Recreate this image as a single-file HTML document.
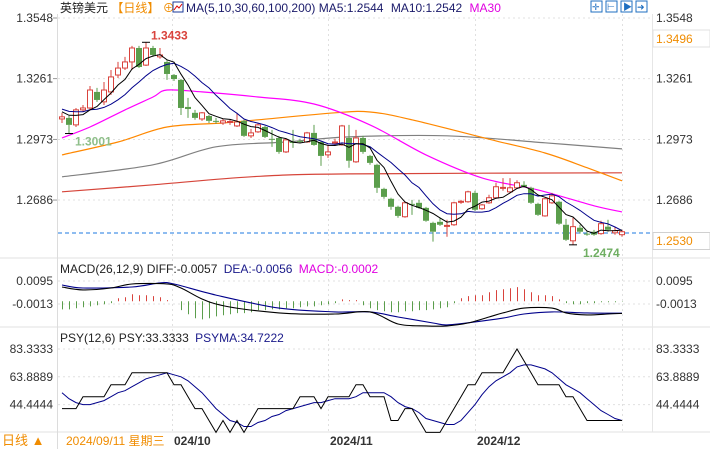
<!DOCTYPE html>
<html><head><meta charset="utf-8">
<style>
html,body{margin:0;padding:0;background:#fff;}
svg{display:block;font-family:"Liberation Sans","Noto Sans CJK SC",sans-serif;}
</style></head>
<body>
<svg id="chart" width="710" height="449" viewBox="0 0 710 449" xmlns="http://www.w3.org/2000/svg">
  <rect x="0" y="0" width="710" height="449" fill="#fff"/>
  <text x="60" y="12" font-size="12" fill="#222">英镑美元 <tspan fill="#f08c00">【日线】</tspan><tspan fill="#f08c00"> ⊕</tspan></text>
  <rect x="173" y="2" width="10" height="10" fill="none" stroke="#1a3a9a"/>
  <polyline points="174,10 177,6 179,8 182,4" fill="none" stroke="#d00"/>
  <text x="186" y="12" font-size="12" fill="#1a1a6a">MA(5,10,30,60,100,200) MA5:1.2544 <tspan dx="4">MA10:1.2542</tspan> <tspan dx="4" fill="#e000e0">MA30</tspan></text>
  <g>
    <rect x="591" y="1" width="11" height="11" fill="#fff" stroke="#1f6fc0"/>
    <rect x="606" y="1" width="11" height="11" fill="#fff" stroke="#1f6fc0"/>
    <rect x="621" y="1" width="11" height="11" fill="#fff" stroke="#1f6fc0"/>
    <rect x="636" y="1" width="11" height="11" fill="#fff" stroke="#1f6fc0"/>
    <text x="592" y="10" font-size="9" fill="#1f6fc0">✛</text>
    <text x="607" y="10" font-size="9" fill="#1f6fc0">⊢</text>
    <text x="623" y="10" font-size="9" fill="#1f6fc0">▶</text>
    <text x="637" y="10" font-size="9" fill="#1f6fc0">➜</text>
  </g>
  <g id="grid"></g>
  <g id="main"></g>
  <g id="macd"></g>
  <g id="psy"></g>
  <g id="axes"></g>
</svg>
<script>
const opens = [1.3070,1.3075,1.3042,1.3113,1.3122,1.3198,1.3151,1.3198,1.3278,1.3311,1.3340,1.3406,1.3325,1.3406,1.3364,1.3340,1.3278,1.3255,1.3127,1.3099,1.3070,1.3084,1.3061,1.3051,1.3056,1.3037,1.3061,1.2990,1.3009,1.3032,1.2976,1.2980,1.2914,1.2961,1.2966,1.2961,1.3004,1.2961,1.2900,1.2957,1.2947,1.2980,1.2867,1.2980,1.2895,1.2853,1.2739,1.2692,1.2654,1.2607,1.2668,1.2673,1.2649,1.2578,1.2583,1.2564,1.2569,1.2678,1.2678,1.2720,1.2645,1.2673,1.2697,1.2744,1.2725,1.2744,1.2758,1.2744,1.2668,1.2611,1.2673,1.2678,1.2569,1.2493,1.2555,1.2527,1.2536,1.2527,1.2560,1.2531,1.2522];
const closes = [1.3080,1.3042,1.3113,1.3122,1.3207,1.3160,1.3207,1.3269,1.3311,1.3340,1.3406,1.3316,1.3406,1.3373,1.3373,1.3283,1.3259,1.3122,1.3117,1.3075,1.3099,1.3061,1.3060,1.3061,1.3058,1.3056,1.2990,1.3004,1.3042,1.2985,1.2974,1.2914,1.2971,1.2957,1.2965,1.3004,1.2947,1.2895,1.2914,1.2961,1.3037,1.2872,1.2980,1.2914,1.2862,1.2744,1.2701,1.2654,1.2611,1.2673,1.2666,1.2649,1.2588,1.2536,1.2569,1.2566,1.2673,1.2680,1.2725,1.2640,1.2663,1.2697,1.2749,1.2746,1.2744,1.2768,1.2749,1.2673,1.2616,1.2692,1.2706,1.2574,1.2498,1.2560,1.2536,1.2526,1.2522,1.2574,1.2545,1.2541,1.2536];
const highs = [1.3099,1.3084,1.3122,1.3136,1.3226,1.3217,1.3245,1.3302,1.3340,1.3364,1.3416,1.3416,1.3433,1.3416,1.3406,1.3349,1.3283,1.3259,1.3170,1.3113,1.3103,1.3089,1.3075,1.3070,1.3070,1.3099,1.3066,1.3023,1.3051,1.3037,1.3018,1.2990,1.2976,1.3018,1.2976,1.3009,1.3042,1.2966,1.2947,1.2976,1.3042,1.3042,1.3018,1.2990,1.2900,1.2858,1.2744,1.2697,1.2659,1.2678,1.2687,1.2687,1.2654,1.2583,1.2602,1.2593,1.2678,1.2687,1.2730,1.2730,1.2668,1.2711,1.2768,1.2790,1.2790,1.2780,1.2775,1.2749,1.2673,1.2697,1.2720,1.2682,1.2597,1.2602,1.2569,1.2541,1.2545,1.2588,1.2593,1.2560,1.2545];
const lows = [1.3051,1.3001,1.3032,1.3103,1.3113,1.3151,1.3136,1.3184,1.3264,1.3302,1.3302,1.3311,1.3321,1.3364,1.3355,1.3255,1.3250,1.3089,1.3075,1.3066,1.3061,1.3051,1.3047,1.3042,1.3042,1.3032,1.2985,1.2980,1.3004,1.2980,1.2938,1.2905,1.2909,1.2933,1.2957,1.2957,1.2943,1.2848,1.2886,1.2947,1.2943,1.2839,1.2862,1.2905,1.2853,1.2720,1.2692,1.2640,1.2602,1.2602,1.2616,1.2645,1.2583,1.2489,1.2564,1.2512,1.2564,1.2668,1.2673,1.2635,1.2640,1.2668,1.2692,1.2730,1.2720,1.2739,1.2744,1.2668,1.2611,1.2607,1.2668,1.2569,1.2493,1.2474,1.2527,1.2517,1.2517,1.2522,1.2536,1.2522,1.2512];
const priorCloses = [1.3150,1.3130,1.3120,1.3110,1.3135,1.3125,1.3115,1.3105,1.3095];
const ma30Idx = [0,4,9,13,15,20,28,36,44,52,60,68,76,80];
const ma30Val = [1.2980,1.3032,1.3113,1.3174,1.3207,1.3198,1.3174,1.3141,1.3042,1.2900,1.2791,1.2734,1.2659,1.2630];
const ma60Idx = [0,8,15,23,28,39,44,50,62,69,75,80];
const ma60Val = [1.2900,1.2961,1.3032,1.3051,1.3066,1.3099,1.3103,1.3066,1.2966,1.2909,1.2839,1.2777];
const ma100Idx = [0,13,22,32,41,55,69,80];
const ma100Val = [1.2796,1.2853,1.2938,1.2961,1.2985,1.2990,1.2957,1.2928];
const ma200Idx = [0,13,27,41,80];
const ma200Val = [1.2725,1.2758,1.2796,1.2810,1.2815];
const priceTicks = [1.3548,1.3261,1.2973,1.2686];
const lastPrice = 1.2530;
const diffIdx = [0,3,7,10,15,17,22,31,39,44,48,52,55,58,61,63,66,70,72,75,78,80];
const diffVal = [0.0067,0.0053,0.0062,0.0081,0.0081,0.0062,-0.0013,-0.0055,-0.0060,-0.0050,-0.0107,-0.0116,-0.0116,-0.0102,-0.0074,-0.0055,-0.0032,-0.0032,-0.0055,-0.0064,-0.0060,-0.0057];
const deaIdx = [0,3,10,14,16,22,31,39,44,48,53,55,59,63,66,70,75,80];
const deaVal = [0.0076,0.0062,0.0067,0.0086,0.0081,0.0029,-0.0032,-0.0050,-0.0050,-0.0074,-0.0102,-0.0111,-0.0097,-0.0079,-0.0060,-0.0050,-0.0055,-0.0056];
const macdHist = [-0.0038,-0.0038,-0.0033,-0.0028,-0.0024,-0.0019,-0.0014,-0.0009,0.0014,0.0019,0.0033,0.0028,0.0028,0.0024,0.0019,0.0005,0,
-0.0042,-0.0061,-0.0080,-0.0085,-0.0080,-0.0071,-0.0066,-0.0061,-0.0056,-0.0056,-0.0052,-0.0042,-0.0042,-0.0038,-0.0038,-0.0033,-0.0033,-0.0028,-0.0024,-0.0024,-0.0019,-0.0014,-0.0009,
0.0009,0.0005,0.0005,-0.0019,-0.0033,-0.0042,-0.0047,-0.0052,-0.0052,
-0.0047,-0.0047,-0.0042,-0.0042,-0.0038,-0.0033,-0.0028,-0.0009,0.0014,0.0024,0.0028,0.0028,0.0042,0.0052,0.0056,0.0061,0.0066,0.0056,0.0042,0.0028,0.0028,0.0024,0.0009,-0.0009,-0.0014,-0.0014,-0.0009,-0.0009,-0.0005,-0.0005,-0.0005,-0.0002];
const macdTicks = [0.0095,-0.0013];
const psy = [41.67,41.67,41.67,50,50,50,50,58.33,58.33,58.33,66.67,66.67,66.67,66.67,66.67,66.67,58.33,58.33,50,41.67,41.67,33.33,25,33.33,25,33.33,25,33.33,41.67,41.67,41.67,41.67,41.67,41.67,50,50,50,41.67,50,50,50,50,58.33,58.33,50,50,50,33.33,33.33,41.67,41.67,33.33,25,25,25,33.33,41.67,50,58.33,58.33,66.67,66.67,66.67,66.67,75,83.33,75,66.67,58.33,58.33,58.33,58.33,50,50,41.67,33.33,33.33,33.33,33.33,33.33,33.33];
const priorPsy = [66.67,58.33,58.33,50,41.67];
const psyTicks = [83.3333,63.8889,44.4444];
const dateLabels = ["024/10","2024/11","2024/12"];
const dateIdx = [15.7,38,59];

const NS="http://www.w3.org/2000/svg";
const X0=62, DX=7;
const xI = i => X0 + DX*i;
const yP = p => 18 + (1.3548 - p)*2112;
const yM = v => 281 + (0.0095 - v)*2130;
const yS = v => 349 + (83.3333 - v)*1.43;
function mk(tag, attrs, parent){const e=document.createElementNS(NS,tag);for(const k in attrs)e.setAttribute(k,attrs[k]);parent.appendChild(e);return e;}
const G=document.getElementById('grid'), M=document.getElementById('main'), MC=document.getElementById('macd'), PS=document.getElementById('psy'), AX=document.getElementById('axes');

[[0,258],[0,327],[0,432]].forEach(([x,y])=>{const l=mk('line',{x1:0,x2:710,y1:y,y2:y,stroke:'#e2e2e2'},G);

});
mk('line',{x1:57.5,x2:57.5,y1:14,y2:449,stroke:'#dcdcdc'},G);
mk('line',{x1:652.5,x2:652.5,y1:14,y2:432,stroke:'#e6e6e6'},G);
dateIdx.concat([80]).forEach(i=>{const x=Math.round(xI(i))+0.5;mk('line',{x1:x,x2:x,y1:14,y2:432,stroke:'#e0e0e0','stroke-dasharray':'2,3'},G);});
priceTicks.forEach(p=>{mk('line',{x1:58,x2:652,y1:yP(p),y2:yP(p),stroke:'#e0e0e0','stroke-dasharray':'2,3'},G);});
macdTicks.forEach(v=>{mk('line',{x1:58,x2:652,y1:yM(v),y2:yM(v),stroke:'#e0e0e0','stroke-dasharray':'2,3'},G);});
psyTicks.forEach(v=>{mk('line',{x1:58,x2:652,y1:yS(v),y2:yS(v),stroke:'#e0e0e0','stroke-dasharray':'2,3'},G);});

function sma(arr, prior, n){const all=prior.concat(arr);const out=[];for(let i=0;i<arr.length;i++){const j=i+prior.length;const s=Math.max(0,j-n+1);let t=0;for(let k=s;k<=j;k++)t+=all[k];out.push(t/(j-s+1));}return out;}
function pathFrom(idx, vals, ys){return idx.map((i,k)=>(k?'L':'M')+xI(i).toFixed(1)+','+ys(vals[k]).toFixed(1)).join(' ');}
function smoothFrom(idx, vals, ys){
  const P=idx.map((i,k)=>[xI(i),ys(vals[k])]);
  let d='M'+P[0][0].toFixed(1)+','+P[0][1].toFixed(1);
  for(let k=0;k<P.length-1;k++){
    const p0=P[Math.max(0,k-1)],p1=P[k],p2=P[k+1],p3=P[Math.min(P.length-1,k+2)];
    const c1=[p1[0]+(p2[0]-p0[0])/6,p1[1]+(p2[1]-p0[1])/6];
    const c2=[p2[0]-(p3[0]-p1[0])/6,p2[1]-(p3[1]-p1[1])/6];
    d+=' C'+c1[0].toFixed(1)+','+c1[1].toFixed(1)+' '+c2[0].toFixed(1)+','+c2[1].toFixed(1)+' '+p2[0].toFixed(1)+','+p2[1].toFixed(1);
  }
  return d;
}
const allIdx = closes.map((_,i)=>i);

[[ma200Idx,ma200Val,'#d6453a','ma200-line'],[ma100Idx,ma100Val,'#808080','ma100-line'],[ma60Idx,ma60Val,'#ff8800','ma60-line'],[ma30Idx,ma30Val,'#ff00ff','ma30-line']].forEach(([ix,vv,c,n])=>{
  const p=mk('path',{d:smoothFrom(ix,vv,yP),fill:'none',stroke:c,'stroke-width':1.2},M);
  
  
});
const lp=mk('line',{x1:58,x2:710,y1:yP(lastPrice),y2:yP(lastPrice),stroke:'#1e78e0','stroke-dasharray':'4,3'},M);



closes.forEach((c,i)=>{
  const o=opens[i], x=xI(i), up=c>=o;
  const col= up?'#d9433d':'#5b9e4c';
  const g=mk('g',{},M);
  
  
  const top=yP(Math.max(o,c)), bot=yP(Math.min(o,c));
  mk('line',{x1:x,x2:x,y1:yP(highs[i]),y2:top,stroke:col},g);
  mk('line',{x1:x,x2:x,y1:bot,y2:yP(lows[i]),stroke:col},g);
  const h=Math.max(1,bot-top);
  if(up) mk('rect',{x:x-2.5,y:top,width:5,height:h,fill:'#fff',stroke:col},g);
  else mk('rect',{x:x-3,y:top,width:6,height:h,fill:col},g);
});
const ma10=sma(closes,priorCloses,10), ma5=sma(closes,priorCloses,5);
[[ma10,'#00008b','ma10-line'],[ma5,'#000','ma5-line']].forEach(([v,c,n])=>{
  const p=mk('path',{d:pathFrom(allIdx,v,yP),fill:'none',stroke:c,'stroke-width':1},M);
  
  
});
function mark(i,p,txt,col,dx,dy){
  const x=xI(i),y=yP(p);
  mk('line',{x1:x-4,x2:x+4,y1:y,y2:y,stroke:'#000'},M);
  const t=mk('text',{x:x+dx,y:y+dy,'font-size':12,'font-weight':'bold',fill:col},M);
  t.textContent=txt;
  
  
}
const hiI=highs.indexOf(Math.max(...highs)), loI=lows.indexOf(Math.min(...lows));
mark(hiI,highs[hiI],highs[hiI].toFixed(4),'#d9433d',5,-3);
mark(1,lows[1],lows[1].toFixed(4),'#8fbf8a',6,12);
mark(loI,lows[loI],lows[loI].toFixed(4),'#6fae62',10,12);

const mt=mk('text',{x:60,y:273,'font-size':12,fill:'#222'},MC);
mt.innerHTML='MACD(26,12,9) DIFF:-0.0057 <tspan fill="#1a1a8a" dx="3">DEA:-0.0056</tspan> <tspan fill="#e000e0" dx="3">MACD:-0.0002</tspan>';


macdHist.forEach((v,i)=>{
  const x=xI(i)+0.5;
  const b=mk('line',{x1:x,x2:x,y1:yM(0),y2:yM(v),stroke:v>=0?'#d9433d':'#5b9e4c'},MC);
  
  
});
[[deaIdx,deaVal,'#00008b','dea-line'],[diffIdx,diffVal,'#000','diff-line']].forEach(([ix,vv,c,n])=>{
  const p=mk('path',{d:smoothFrom(ix,vv,yM),fill:'none',stroke:c,'stroke-width':1.1},MC);
  
  
});

const pt=mk('text',{x:60,y:342,'font-size':12,fill:'#222'},PS);
pt.innerHTML='PSY(12,6) PSY:33.3333 <tspan fill="#1a1a8a" dx="3">PSYMA:34.7222</tspan>';


const psyma=sma(psy,priorPsy,6);
[[psyma,'#00008b','psyma-line'],[psy,'#000','psy-line']].forEach(([v,c,n])=>{
  const p=mk('path',{d:pathFrom(allIdx,v,yS),fill:'none',stroke:c,'stroke-width':1},PS);
  
  
});

function lab(x,y,txt,anchor,col,name,extra){
  const t=mk('text',Object.assign({x:x,y:y,'font-size':12,fill:col,'text-anchor':anchor},extra||{}),AX);
  t.textContent=txt;
  
  
  return t;
}
priceTicks.forEach(p=>{lab(53,yP(p)+4,p.toFixed(4),'end','#333','price-tick-left');lab(656,yP(p)+4,p.toFixed(4),'start','#333','price-tick-right');
  mk('line',{x1:53,x2:57,y1:yP(p),y2:yP(p),stroke:'#999'},AX);});
mk('rect',{x:653,y:30,width:57,height:17,fill:'#fff',stroke:'#e0e0e0'},AX);
lab(656,43,'1.3496','start','#f08c00','ma30-price-tag');
mk('rect',{x:653,y:yP(lastPrice)-0.5,width:57,height:17,fill:'#fff',stroke:'#d0d0d0'},AX);
lab(656,yP(lastPrice)+12,lastPrice.toFixed(4),'start','#f08c00','last-price-tag');
macdTicks.forEach(v=>{lab(53,yM(v)+4,v.toFixed(4),'end','#333','macd-tick-left');lab(656,yM(v)+4,v.toFixed(4),'start','#333','macd-tick-right');});
psyTicks.forEach(v=>{lab(53,yS(v)+4,v.toFixed(4),'end','#333','psy-tick-left');lab(656,yS(v)+4,v.toFixed(4),'start','#333','psy-tick-right');});
dateLabels.forEach((d,k)=>{const x=Math.round(xI(dateIdx[k]))+2;lab(x,445,d,'start','#333','date-label',{'font-weight':'bold'});});
mk('rect',{x:62,y:433,width:111,height:16,fill:'#fff'},AX);
lab(66,445,'2024/09/11 星期三','start','#f08c00','cursor-date');
const pd=lab(2,445,'日线 ▲','start','#f08c00','period-selector',{'font-size':13});

</script>
</body></html>
